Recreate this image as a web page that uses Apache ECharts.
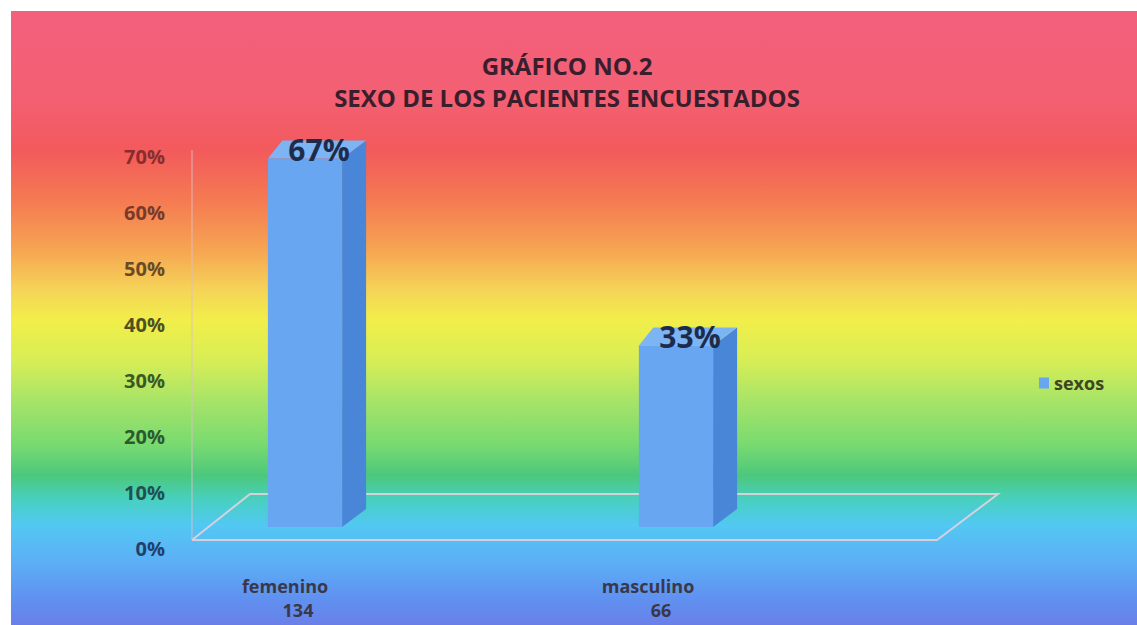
<!DOCTYPE html>
<html>
<head>
<meta charset="utf-8">
<script src="https://cdn.jsdelivr.net/npm/echarts@6/dist/echarts.min.js"></script>
<style>
  html, body { margin: 0; padding: 0; background: #fff; }
  #chart {
    width: 1137px; height: 625px;
    background: #fff linear-gradient(to bottom,
      #f2607c 0px, #f45f72 89px, #f25a5c 139px, #f57a52 189px, #f6a552 239px,
      #f5d458 279px, #f2ee4a 309px, #d8ee55 349px, #a8e468 389px, #78da70 434px,
      #4cc87c 464px, #48d0c0 489px, #52c8f2 514px, #5cb0f6 549px, #6090f0 589px,
      #6a80e8 614px) 11px 11px / 1126px 614px no-repeat;
  }
</style>
</head>
<body>
<div id="chart"></div>
<script>
// ---- data ----
const titleLines = ['GRÁFICO NO.2', 'SEXO DE LOS PACIENTES ENCUESTADOS'];
const categories = ['femenino', 'masculino'];
const counts = [134, 66];
const percents = [0.67, 0.33];
const seriesName = 'sexos';
const yTickLabels = ['0%', '10%', '20%', '30%', '40%', '50%', '60%', '70%'];
const yMax = 0.7;
const yStep = 0.1;

const tickColors = ['#22406c', '#1f5150', '#2a5a30', '#3a5a25', '#4f5020', '#6b4a25', '#7a3a2a', '#8b2c2c'];
const FONT = '"Open Sans", "DejaVu Sans", sans-serif';

const chart = echarts.init(document.getElementById('chart'), null, { renderer: 'svg' });

function renderBar(params, api) {
  const idx = api.value(0);
  const v = api.value(1);
  const top = api.coord([idx, v]);
  const base = api.coord([idx, 0]);
  const w = api.size([1, 0])[0] * 0.2;
  const x0 = top[0] - w / 2, x1 = top[0] + w / 2;
  const y0 = top[1], y1 = base[1];
  const dx = 24, dy = -18;
  return {
    type: 'group',
    children: [
      { type: 'polygon', shape: { points: [[x1, y0], [x1 + dx, y0 + dy], [x1 + dx, y1 + dy], [x1, y1]] },
        style: { fill: '#4a86d8' } },
      { type: 'polygon', shape: { points: [[x0, y0], [x0 + dx * 0.6, y0 + dy], [x1 + dx, y0 + dy], [x1, y0]] },
        style: { fill: '#7cb4f4' } },
      { type: 'rect', shape: { x: x0, y: y0, width: w, height: y1 - y0 },
        style: { fill: '#68a6f2' } },
      { type: 'text', x: top[0] + 14, y: y0 - 9,
        style: { text: Math.round(v * 100) + '%', fill: '#1e2c4c', font: 'bold 30px ' + FONT,
                 align: 'center', verticalAlign: 'middle' } }
    ]
  };
}

const option = {
  animation: false,
  title: {
    text: titleLines.join('\n'),
    left: 562, top: 44, textAlign: 'center',
    textStyle: { fontFamily: FONT, fontWeight: 'bold', fontSize: 24, color: '#3a1e2c', lineHeight: 32 }
  },
  legend: {
    data: [{ name: seriesName, icon: 'rect' }],
    left: 1034, top: 369, itemWidth: 10, itemHeight: 11, itemGap: 6,
    textStyle: { fontFamily: FONT, fontWeight: 'bold', fontSize: 18, color: '#3d4522' }
  },
  graphic: [
    { type: 'polyline', silent: true, z: 0,
      shape: { points: [[192, 540], [250, 494], [998, 494], [937, 540], [192, 540]] },
      style: { stroke: 'rgba(235,210,225,0.85)', lineWidth: 2, fill: null } },
    { type: 'line', silent: true, z: 0,
      shape: { x1: 192, y1: 150, x2: 192, y2: 540 },
      style: { stroke: 'rgba(220,190,200,0.6)', lineWidth: 1.5 } }
  ],
  grid: [
    { left: 119.5, right: 275.5, top: 142, bottom: 98 },
    { left: 192, width: 10, top: 156, bottom: 77 },
    { left: 103.5, width: 726, top: 156, bottom: 77 }
  ],
  xAxis: [
    { gridIndex: 0, type: 'category', data: categories, show: false },
    { gridIndex: 1, type: 'category', data: [''], show: false },
    { gridIndex: 2, type: 'category', data: categories,
      axisLine: { show: false }, axisTick: { show: false },
      axisLabel: {
        margin: 26, interval: 0,
        formatter: function (val, i) { return '{a|' + val + '}\n{b|' + counts[i] + '}'; },
        rich: {
          a: { fontFamily: FONT, fontWeight: 'bold', fontSize: 18, color: '#3a3848', lineHeight: 24 },
          b: { fontFamily: FONT, fontWeight: 'bold', fontSize: 18, color: '#3a3848', lineHeight: 24, padding: [0, 0, 0, 26] }
        }
      } }
  ],
  yAxis: [
    { gridIndex: 0, type: 'value', min: 0, max: yMax, show: false },
    { gridIndex: 1, type: 'value', min: 0, max: yMax, interval: yStep,
      axisLine: { show: false }, axisTick: { show: false }, splitLine: { show: false },
      axisLabel: {
        margin: 27, fontFamily: FONT, fontWeight: 'bold', fontSize: 20,
        formatter: function (val) { return yTickLabels[Math.round(val / yStep)]; },
        color: function (val) { return tickColors[Math.round(val / yStep)]; }
      } },
    { gridIndex: 2, type: 'value', min: 0, max: yMax, show: false }
  ],
  series: [
    { name: seriesName, type: 'custom', xAxisIndex: 0, yAxisIndex: 0, z: 3,
      itemStyle: { color: '#68a6f2' },
      renderItem: renderBar,
      encode: { x: 0, y: 1 },
      data: percents.map(function (p, i) { return [i, p]; }) }
  ]
};
chart.setOption(option);
</script>
</body>
</html>
